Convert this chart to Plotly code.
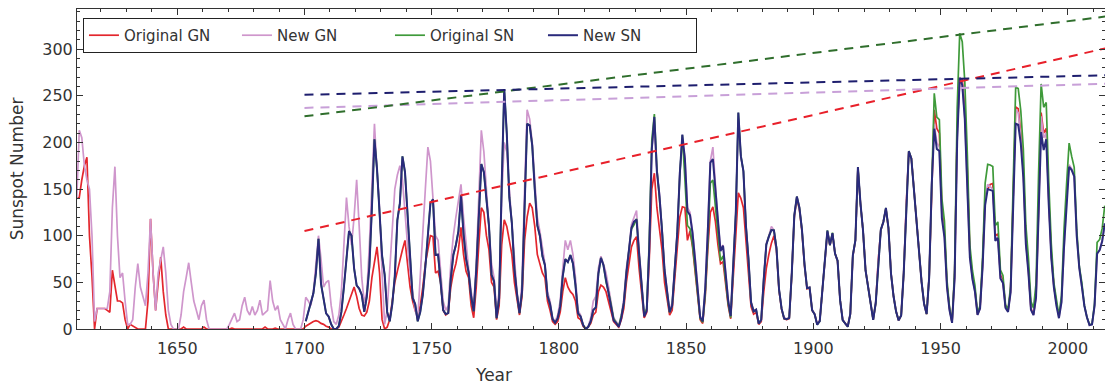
import numpy as np
import plotly.graph_objects as go

# ---------------- data (yearly values) ----------------
GN_START = 1610
SN_START = 1700

new_gn = [
    140, 213, 205, 175, 160, 150, 100, 8, 22, 22,
    22, 22, 22, 40, 130, 174, 100, 55, 60, 30,
    5, 5, 10, 45, 70, 45, 34, 25, 60, 118,
    60, 20, 60, 75, 88, 60, 20, 5, 0, 0,
    0, 15, 40, 55, 71, 50, 30, 20, 10, 25,
    31, 10, 0, 0, 0, 0, 0, 0, 0, 0,
    5, 12, 17, 8, 10, 25, 34, 20, 15, 24,
    15, 20, 31, 15, 17, 20, 52, 30, 20, 25,
    10, 5, 0, 10, 17, 5, 0, 0, 0, 10,
    34, 30, 25, 40, 70, 100, 75, 45, 50, 52,
    25, 8, 5, 15, 40, 95, 141, 110, 90, 120,
    160, 110, 55, 28, 40, 90, 150, 220, 170, 130,
    60, 5, 20, 60, 110, 150, 165, 175, 160, 120,
    90, 60, 40, 20, 10, 60, 110, 150, 195, 180,
    140, 100, 95, 60, 30, 20, 25, 70, 100, 120,
    140, 155, 120, 90, 65, 40, 25, 70, 150, 213,
    190, 150, 120, 70, 55, 20, 40, 140, 200, 190,
    150, 115, 70, 40, 20, 50, 150, 235, 225, 200,
    160, 120, 105, 85, 70, 40, 30, 12, 8, 15,
    30, 65, 95, 85, 95, 80, 55, 20, 15, 5,
    0, 3, 12, 30, 35, 65, 78, 70, 60, 45,
    30, 12, 8, 4, 15, 32, 65, 85, 112, 120,
    127, 85, 50, 16, 22, 90, 195, 215, 170, 145,
    108, 65, 42, 20, 28, 70, 105, 168, 200, 185,
    130, 125, 105, 78, 42, 14, 10, 45, 108, 180,
    195, 150, 115, 86, 90, 60, 32, 15, 64, 125,
    225, 185, 168, 112, 76, 30, 20, 21, 6, 10,
    55, 92, 100, 110, 106, 87, 43, 22, 12, 11,
    12, 60, 122, 142, 131, 107, 70, 44, 45, 21,
    16, 5, 9, 41, 70, 104, 90, 102, 81, 73,
    31, 10, 6, 3, 16, 78, 95, 172, 134, 106,
    63, 44, 24, 10, 28, 74, 106, 115, 129, 108,
    60, 35, 19, 9, 15, 60, 133, 190, 183, 148,
    113, 79, 51, 27, 16, 56, 156, 220, 200, 195,
    122, 100, 46, 21, 7, 56, 205, 270, 262, 226,
    160, 78, 54, 40, 15, 22, 68, 140, 155, 152,
    150, 96, 99, 55, 50, 23, 19, 40, 135, 235,
    232, 205, 168, 93, 62, 21, 15, 34, 126, 228,
    205, 210, 136, 78, 46, 26, 12, 29, 90, 140,
    176, 172, 164, 100, 66, 46, 25, 13, 4, 5,
    25, 81, 85, 95, 112,
]

orig_gn = [
    140, 141, 160, 175, 184, 100, 56, 0, 22, 22,
    22, 22, 20, 18, 63, 45, 30, 30, 28, 10,
    0, 5, 3, 2, 0, 0, 0, 0, 30, 118,
    60, 20, 50, 77, 40, 15, 0, 0, 0, 0,
    0, 0, 2, 0, 0, 0, 0, 0, 0, 0,
    2, 0, 0, 0, 0, 0, 0, 0, 0, 0,
    0, 1, 0, 0, 0, 0, 0, 0, 0, 0,
    0, 0, 0, 0, 2, 0, 0, 0, 1, 0,
    0, 0, 0, 0, 0, 0, 0, 0, 0, 0,
    3, 5, 6, 8, 9, 8, 6, 5, 3, 2,
    0, 0, 0, 2, 8, 15, 22, 30, 38, 45,
    35, 22, 15, 14, 18, 30, 55, 70, 88, 60,
    10, 0, 2, 10, 30, 50, 62, 75, 85, 95,
    70, 45, 30, 20, 14, 25, 45, 70, 85, 100,
    99, 60, 62, 50, 20, 15, 17, 45, 60, 70,
    85, 109, 80, 62, 55, 25, 12, 45, 90, 130,
    125, 100, 85, 50, 45, 10, 25, 90, 117, 110,
    95, 80, 50, 30, 15, 35, 95, 120, 135, 130,
    110, 80, 70, 60, 55, 30, 20, 8, 5, 8,
    18, 40, 55, 45, 40, 37, 30, 12, 10, 3,
    0, 2, 6, 15, 18, 40, 47, 45, 40, 30,
    20, 8, 5, 2, 10, 22, 50, 70, 88, 95,
    99, 65, 38, 12, 18, 75, 150, 167, 130, 110,
    85, 50, 33, 15, 20, 52, 85, 120, 131, 130,
    95, 105, 88, 62, 33, 10, 6, 35, 85, 125,
    131, 115, 90, 70, 72, 48, 25, 11, 50, 100,
    146, 140, 130, 95, 65, 24, 16, 18, 5, 8,
    40, 65, 80, 92, 100, 84, 41, 21, 11, 10,
    11, 58, 120, 140, 128, 105, 68, 43, 44, 20,
    16, 5, 9, 41, 70, 104, 90, 102, 81, 73,
    31, 10, 6, 3, 16, 78, 95, 172, 134, 106,
    63, 44, 24, 10, 28, 74, 106, 115, 129, 108,
    60, 35, 19, 9, 15, 60, 133, 190, 183, 148,
    113, 79, 51, 27, 16, 56, 156, 235, 215, 210,
    130, 105, 48, 22, 7, 58, 215, 265, 268, 235,
    170, 82, 57, 42, 16, 23, 70, 142, 150, 155,
    156, 100, 102, 58, 52, 24, 19, 42, 140, 238,
    236, 210, 172, 96, 64, 22, 16, 36, 130, 232,
    210, 215, 140, 80, 47, 27,
]

orig_sn = [
    8.3, 18.3, 26.7, 38.3, 60.0, 96.7, 48.3, 33.3, 16.7, 13.3,
    5.0, 0.0, 0.0, 3.3, 18.3, 45.0, 78.3, 105.0, 100.0, 65.0,
    46.7, 43.3, 36.7, 18.3, 35.0, 66.7, 130.0, 203.3, 171.7, 121.7,
    78.3, 58.3, 18.3, 8.3, 26.7, 56.7, 116.7, 135.0, 185.0, 168.3,
    121.7, 66.7, 33.3, 26.7, 8.3, 18.3, 36.7, 66.7, 100.0, 134.8,
    139.0, 79.5, 79.7, 51.2, 20.3, 16.0, 17.0, 54.0, 79.3, 90.0,
    104.8, 143.2, 102.0, 75.2, 60.7, 34.8, 19.0, 63.0, 116.3, 176.8,
    168.0, 136.0, 110.8, 58.0, 51.0, 11.7, 33.0, 154.2, 257.3, 209.8,
    141.3, 113.5, 64.2, 38.0, 17.0, 40.2, 138.2, 220.0, 218.2, 196.8,
    149.8, 111.0, 100.0, 78.2, 68.3, 35.5, 26.7, 10.7, 6.8, 11.3,
    24.2, 56.7, 75.0, 71.8, 79.2, 70.3, 46.8, 16.8, 13.5, 4.2,
    0.0, 2.3, 8.3, 20.3, 23.2, 59.0, 76.3, 68.5, 50.2, 39.8,
    26.0, 11.0, 6.7, 3.0, 14.2, 27.7, 60.5, 82.7, 107.0, 111.7,
    118.2, 79.7, 45.8, 14.2, 22.0, 94.8, 202.5, 230.5, 172.0, 142.8,
    107.7, 61.2, 40.3, 17.8, 25.0, 66.8, 102.5, 164.2, 207.8, 160.5,
    111.0, 107.5, 90.2, 65.0, 34.3, 11.2, 7.2, 37.8, 91.3, 156.3,
    159.7, 128.7, 98.5, 73.3, 78.3, 50.8, 27.2, 12.2, 62.7, 123.3,
    231.7, 185.3, 169.3, 110.3, 74.5, 28.3, 18.8, 20.7, 5.7, 10.0,
    53.8, 90.5, 99.5, 106.2, 105.8, 87.0, 42.3, 21.8, 11.3, 10.5,
    11.8, 59.3, 121.7, 141.8, 130.0, 106.7, 69.7, 43.7, 44.5, 20.2,
    15.8, 4.5, 8.3, 40.7, 70.0, 105.8, 89.7, 103.3, 80.8, 73.2,
    31.0, 9.5, 6.0, 2.3, 16.0, 79.0, 95.2, 173.2, 134.3, 106.0,
    62.7, 43.5, 23.7, 9.7, 27.8, 73.8, 106.5, 115.0, 129.7, 108.2,
    59.5, 35.3, 18.5, 9.5, 14.5, 60.2, 132.8, 190.7, 182.7, 148.0,
    113.0, 79.2, 51.0, 27.2, 16.0, 55.3, 154.3, 252.7, 227.2, 224.5,
    139.8, 115.7, 52.5, 23.2, 7.3, 63.3, 236.2, 317.0, 308.0, 265.0,
    187.2, 89.8, 62.7, 46.5, 17.0, 25.2, 78.3, 156.3, 176.5, 175.8,
    174.2, 111.0, 114.8, 63.3, 57.5, 25.8, 21.0, 45.8, 154.2, 259.0,
    257.7, 234.0, 193.2, 111.0, 76.5, 29.8, 22.3, 49.0, 167.0, 262.7,
    237.7, 242.8, 157.2, 91.0, 49.8, 29.2, 14.3, 35.8, 107.2, 155.5,
    199.3, 185.0, 173.3, 106.2, 67.3, 49.7, 25.3, 12.5, 4.8, 5.2,
    27.5, 92.8, 96.0, 107.8, 132.2,
]

new_sn = [
    8.3, 18.3, 26.7, 38.3, 60.0, 96.7, 48.3, 33.3, 16.7, 13.3,
    5.0, 0.0, 0.0, 3.3, 18.3, 45.0, 78.3, 105.0, 100.0, 65.0,
    46.7, 43.3, 36.7, 18.3, 35.0, 66.7, 130.0, 203.3, 171.7, 121.7,
    78.3, 58.3, 18.3, 8.3, 26.7, 56.7, 116.7, 135.0, 185.0, 168.3,
    121.7, 66.7, 33.3, 26.7, 8.3, 18.3, 36.7, 66.7, 100.0, 134.8,
    139.0, 79.5, 79.7, 51.2, 20.3, 16.0, 17.0, 54.0, 79.3, 90.0,
    104.8, 143.2, 102.0, 75.2, 60.7, 34.8, 19.0, 63.0, 116.3, 176.8,
    168.0, 136.0, 110.8, 58.0, 51.0, 11.7, 33.0, 154.2, 257.3, 209.8,
    141.3, 113.5, 64.2, 38.0, 17.0, 40.2, 138.2, 220.0, 218.2, 196.8,
    149.8, 111.0, 100.0, 78.2, 68.3, 35.5, 26.7, 10.7, 6.8, 11.3,
    24.2, 56.7, 75.0, 71.8, 79.2, 70.3, 46.8, 16.8, 13.5, 4.2,
    0.0, 2.3, 8.3, 20.3, 23.2, 59.0, 76.3, 68.3, 52.9, 38.5,
    24.2, 9.2, 6.3, 2.2, 11.4, 28.2, 59.9, 83.0, 108.5, 115.2,
    117.4, 80.8, 44.3, 13.4, 19.5, 85.8, 192.7, 227.3, 168.7, 143.0,
    105.5, 63.3, 40.3, 18.1, 25.1, 65.8, 102.7, 166.3, 208.3, 182.5,
    126.3, 122.0, 102.7, 74.1, 39.0, 12.7, 8.2, 43.4, 104.4, 178.3,
    182.2, 146.6, 112.1, 83.5, 89.2, 57.8, 30.7, 13.9, 62.8, 123.6,
    232.0, 185.3, 169.2, 110.1, 74.5, 28.3, 18.9, 20.7, 5.7, 10.0,
    53.7, 90.5, 99.0, 106.1, 105.8, 86.3, 42.4, 21.8, 11.2, 10.4,
    11.8, 59.5, 121.7, 142.0, 130.0, 106.6, 69.4, 43.8, 44.4, 20.2,
    15.7, 4.6, 8.5, 40.8, 70.1, 105.5, 90.1, 102.8, 80.9, 73.2,
    30.9, 9.5, 6.0, 2.4, 16.1, 79.0, 95.0, 173.6, 134.6, 105.7,
    62.7, 43.5, 23.7, 9.7, 27.9, 74.0, 106.5, 114.7, 129.7, 108.2,
    59.4, 35.1, 18.6, 9.2, 14.6, 60.2, 132.8, 190.6, 182.6, 148.0,
    113.0, 79.2, 50.8, 27.1, 16.1, 55.3, 154.3, 214.7, 193.0, 190.7,
    118.9, 98.3, 45.0, 20.1, 6.6, 54.2, 200.7, 269.3, 261.7, 225.1,
    159.0, 76.4, 53.4, 39.9, 15.0, 22.0, 66.8, 132.9, 150.0, 149.4,
    148.0, 94.4, 97.6, 54.1, 49.2, 22.5, 18.4, 39.3, 131.0, 220.1,
    218.9, 198.9, 162.4, 91.0, 60.5, 20.6, 14.8, 33.9, 123.0, 211.1,
    191.8, 203.3, 133.0, 76.1, 44.9, 25.1, 11.6, 28.9, 88.3, 136.3,
    173.9, 170.4, 163.6, 99.3, 65.3, 45.8, 24.7, 12.6, 4.2, 4.8,
    24.9, 80.8, 84.5, 94.0, 113.3,
]

# linear trend lines (end points)
trend_years = [1700, 2015]
trend_orig_gn = [105, 301]
trend_new_gn = [237, 263]
trend_orig_sn = [228, 335]
trend_new_sn = [251, 272]

x_ticks = [1650, 1700, 1750, 1800, 1850, 1900, 1950, 2000]
y_ticks = [0, 50, 100, 150, 200, 250, 300]

# ---------------- figure ----------------
def yrs(start, vals):
    return [start + i + 0.5 for i in range(len(vals))]

C_RED = "#e3262d"
C_PINK = "#cf96cc"
C_GREEN = "#3f9a3a"
C_NAVY = "#2a2a7c"

fig = go.Figure()

fig.add_trace(go.Scatter(x=yrs(GN_START, orig_gn), y=orig_gn, mode="lines",
                         name="Original GN", line=dict(color=C_RED, width=1.7)))
fig.add_trace(go.Scatter(x=yrs(GN_START, new_gn), y=new_gn, mode="lines",
                         name="New GN", line=dict(color=C_PINK, width=1.7)))
fig.add_trace(go.Scatter(x=yrs(SN_START, orig_sn), y=orig_sn, mode="lines",
                         name="Original SN", line=dict(color=C_GREEN, width=1.7)))
fig.add_trace(go.Scatter(x=yrs(SN_START, new_sn), y=new_sn, mode="lines",
                         name="New SN", line=dict(color=C_NAVY, width=2)))

for vals, col in [(trend_orig_gn, "#e8202a"), (trend_new_gn, "#c8a0d8"),
                  (trend_orig_sn, "#2f6e2c"), (trend_new_sn, "#1e1e6e")]:
    fig.add_trace(go.Scatter(x=trend_years, y=vals, mode="lines", showlegend=False,
                             hoverinfo="skip",
                             line=dict(color=col, width=2, dash="9px,7px")))

axis_common = dict(
    showline=True, linecolor="#333333", linewidth=1, mirror="ticks",
    ticks="inside", ticklen=6, tickcolor="#333333", tickwidth=1,
    showgrid=False, zeroline=False,
    tickfont=dict(family="DejaVu Sans", size=16, color="#333333"),
)

fig.update_layout(
    width=1105, height=389,
    margin=dict(l=77, r=0, t=9, b=60),
    paper_bgcolor="white", plot_bgcolor="white",
    font=dict(family="DejaVu Sans", color="#333333"),
    xaxis=dict(range=[1610.6, 2014.6], tickvals=x_ticks, ticklabelstandoff=5,
               minor=dict(dtick=10, tick0=1650, ticks="inside", ticklen=3,
                          tickcolor="#333333"),
               **axis_common),
    yaxis=dict(range=[0, 343], tickvals=y_ticks,
               minor=dict(dtick=10, tick0=0, ticks="inside", ticklen=3,
                          tickcolor="#333333"),
               title=dict(text="Sunspot Number", standoff=14,
                          font=dict(family="DejaVu Sans", size=17, color="#333333")),
               **axis_common),
    legend=dict(orientation="h", x=0.0058, y=0.972, xanchor="left", yanchor="top",
                bgcolor="white", bordercolor="#222222", borderwidth=1,
                font=dict(family="DejaVu Sans", size=15, color="#333333"),
                entrywidth=108, entrywidthmode="pixels", itemwidth=30),
    annotations=[dict(text="Year", x=0.4056, y=-0.144, xref="paper", yref="paper",
                      xanchor="center", yanchor="middle", showarrow=False,
                      font=dict(family="DejaVu Sans", size=17, color="#333333"))],
)

fig.write_html("out.html")
